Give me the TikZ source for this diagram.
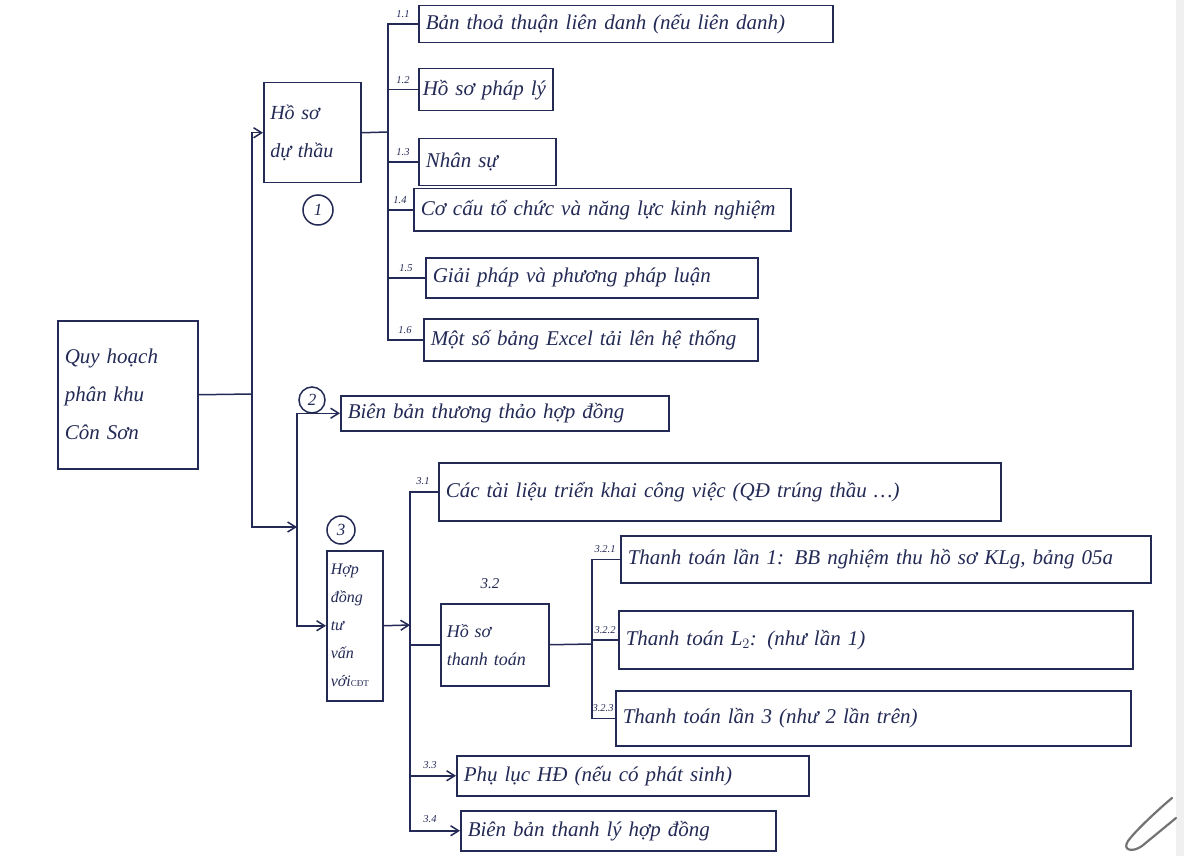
\documentclass[tikz,border=0pt]{standalone}
\usepackage{fontspec}
\setmainfont{Liberation Serif}
\usetikzlibrary{arrows.meta}
\definecolor{ink}{RGB}{35,42,85}
\begin{document}
\begin{tikzpicture}[x=1pt,y=-1pt,
  line width=1.5pt, draw=ink, text=ink,
  >={Straight Barb[length=8pt,width=10pt]},
  box/.style={draw=ink, line width=1.5pt, rectangle, anchor=north west, inner xsep=6pt, inner ysep=2pt, align=left,
    font=\fontsize{21}{24}\selectfont\itshape},
  num/.style={font=\fontsize{10.5}{12}\selectfont\itshape, inner sep=0pt, text=ink},
  circ/.style={draw=ink, circle, line width=1.5pt, inner sep=0pt, minimum size=#1, font=\fontsize{17}{17}\selectfont\itshape},
  arr/.style={->, draw=ink},
  ln/.style={draw=ink}]
\useasboundingbox (0,0) rectangle (1184,856);
\fill[white] (0,0) rectangle (1184,856);
\fill[black!6] (1176,0) rectangle (1184,856);

% root
\node[box, minimum width=140, minimum height=148, text width=126, font=\fontsize{21}{38}\selectfont\itshape] (root) at (57,320) {Quy hoạch\\phân khu\\Côn Sơn};

% level 1
\node[box, minimum width=97, minimum height=100, text width=84, font=\fontsize{20}{38}\selectfont\itshape] (n1) at (263,82) {Hồ sơ\\dự thầu};
\node[circ=30] (c1) at (318,210) {1};
\node[box, minimum width=328, minimum height=35, text width=314] (n2) at (340,395) {Biên bản thương thảo hợp đồng};
\node[circ=26] (c2) at (312,400) {2};
\node[box, minimum width=56, minimum height=150, text width=48, inner xsep=4pt, font=\fontsize{16}{28}\selectfont\itshape] (n3) at (326,550) {Hợp\\đồng\\tư\\vấn\\với{\fontsize{9}{9}\selectfont\upshape CĐT}};
\node[circ=28] (c3) at (341,530) {3};

% group 1 children
\node[box, minimum width=414, minimum height=37, text width=400] (n11) at (418,5) {Bản thoả thuận liên danh (nếu liên danh)};
\node[box, minimum width=134, minimum height=42, text width=126, inner xsep=4pt] (n12) at (418,68) {Hồ sơ pháp lý};
\node[box, minimum width=137, minimum height=47, text width=123] (n13) at (418,138) {Nhân sự};
\node[box, minimum width=377, minimum height=42, text width=363] (n14) at (413,188) {Cơ cấu tổ chức và năng lực kinh nghiệm};
\node[box, minimum width=332, minimum height=40, text width=318] (n15) at (425,257) {Giải pháp và phương pháp luận};
\node[box, minimum width=334, minimum height=42, text width=320] (n16) at (423,318) {Một số bảng Excel tải lên hệ thống};

% group 3 children
\node[box, minimum width=562, minimum height=58, text width=548] (n31) at (438,462) {Các tài liệu triển khai công việc (QĐ trúng thầu \dots)};
\node[box, minimum width=108, minimum height=82, text width=96, font=\fontsize{18}{28}\selectfont\itshape] (n32) at (440,603) {Hồ sơ\\thanh toán};
\node[box, minimum width=352, minimum height=40, text width=338] (n33) at (456,755) {Phụ lục HĐ (nếu có phát sinh)};
\node[box, minimum width=315, minimum height=40, text width=301] (n34) at (460,810) {Biên bản thanh lý hợp đồng};

% group 3.2 children
\node[box, minimum width=530, minimum height=47, text width=516] (n321) at (620,535) {Thanh toán lần 1: BB nghiệm thu hồ sơ KLg, bảng 05a};
\node[box, minimum width=514, minimum height=58, text width=500] (n322) at (618,610) {Thanh toán L$_2$: (như lần 1)};
\node[box, minimum width=515, minimum height=55, text width=501] (n323) at (615,690) {Thanh toán lần 3 (như 2 lần trên)};

% number labels
\node[num] (l11) at (403,14) {1.1};
\node[num] (l12) at (403,80) {1.2};
\node[num] (l13) at (403,152) {1.3};
\node[num] (l14) at (400,200) {1.4};
\node[num] (l15) at (406,268) {1.5};
\node[num] (l16) at (405,330) {1.6};
\node[num] (l31) at (423,481) {3.1};
\node[num, font=\fontsize{15}{15}\selectfont\itshape] (l32) at (490,584) {3.2};
\node[num] (l321) at (605,549) {3.2.1};
\node[num] (l322) at (605,630) {3.2.2};
\node[num] (l323) at (603,708) {3.2.3};
\node[num] (l33) at (430,765) {3.3};
\node[num] (l34) at (430,819) {3.4};

% connectors: root
\coordinate (t0) at (252,394);
\coordinate (t1) at (297,527);
\draw[ln] (root.east) -- (t0);
\draw[arr] (t0) |- (n1.west);
\draw[arr] (t0) |- (t1);
\draw[arr] (t1) |- (n2.west);
\draw[arr] (t1) |- (n3.west);

% group 1
\coordinate (u1) at (388,132);
\draw[ln] (n1.east) -- (u1);
\draw[ln] (u1) |- (n11.west);
\draw[ln] (u1) |- (n12.west);
\draw[ln] (u1) |- (n13.west);
\draw[ln] (u1) |- (n14.west);
\draw[ln] (u1) |- (n15.west);
\draw[ln] (u1) |- (n16.west);

% group 3
\coordinate (u3) at (410,625);
\draw[arr] (n3.east) -- (u3);
\draw[ln] (u3) |- (n31.west);
\draw[ln] (u3) |- (n32.west);
\draw[arr] (u3) |- (n33.west);
\draw[arr] (u3) |- (n34.west);

% group 3.2
\coordinate (u32) at (592,644);
\draw[ln] (n32.east) -- (u32);
\draw[ln] (u32) |- (n321.west);
\draw[ln] (u32) |- (n322.west);
\draw[ln] (u32) |- (n323.west);

% paper clip
\draw[black!55, line width=2.2pt, line cap=round] (1172,798) .. controls (1160,808) and (1136,830) .. (1128,841) .. controls (1122,850) and (1132,853) .. (1142,846) -- (1176,818);
\end{tikzpicture}
\end{document}
